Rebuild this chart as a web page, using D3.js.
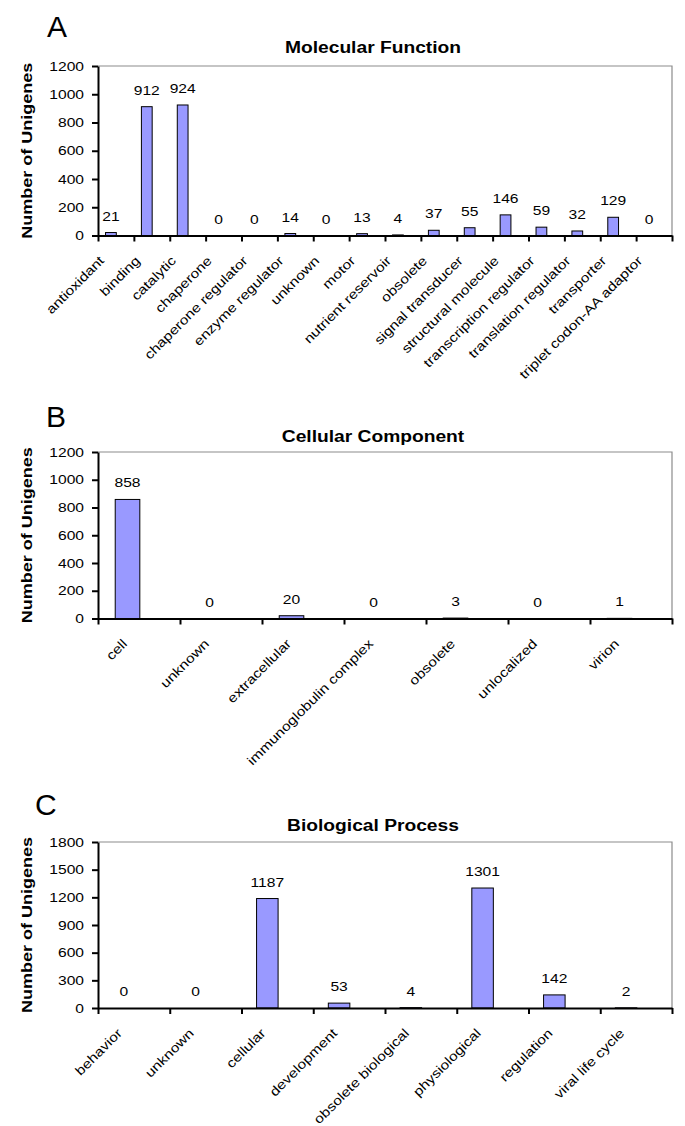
<!DOCTYPE html>
<html>
<head>
<meta charset="utf-8">
<script src="https://cdn.jsdelivr.net/npm/d3@7"></script>
<style>
  html, body { margin: 0; padding: 0; background: #fff; }
  svg { display: block; }
  text { font-family: "Liberation Sans", Arial, Helvetica, sans-serif; fill: #000; }
</style>
</head>
<body>
<svg id="chart" width="685" height="1126"></svg>
<script>
// ---- data ----
const mfCategories = ["antioxidant", "binding", "catalytic", "chaperone", "chaperone regulator",
  "enzyme regulator", "unknown", "motor", "nutrient reservoir", "obsolete", "signal transducer",
  "structural molecule", "transcription regulator", "translation regulator", "transporter",
  "triplet codon-AA adaptor"];
const mfValues = [21, 912, 924, 0, 0, 14, 0, 13, 4, 37, 55, 146, 59, 32, 129, 0];
const mfTicks = [0, 200, 400, 600, 800, 1000, 1200];

const ccCategories = ["cell", "unknown", "extracellular", "immunoglobulin complex", "obsolete",
  "unlocalized", "virion"];
const ccValues = [858, 0, 20, 0, 3, 0, 1];
const ccTicks = [0, 200, 400, 600, 800, 1000, 1200];

const bpCategories = ["behavior", "unknown", "cellular", "development", "obsolete biological",
  "physiological", "regulation", "viral life cycle"];
const bpValues = [0, 0, 1187, 53, 4, 1301, 142, 2];
const bpTicks = [0, 300, 600, 900, 1200, 1500, 1800];

const titles = ["Molecular Function", "Cellular Component", "Biological Process"];
const letters = ["A", "B", "C"];
const yTitle = "Number of Unigenes";

// ---- drawing ----
const svg = d3.select("#chart");
const STRETCH = 1.2;

function stretch(sel) {
  sel.each(function () {
    const n = this.getComputedTextLength();
    if (n > 0) {
      d3.select(this).attr("textLength", n * STRETCH).attr("lengthAdjust", "spacingAndGlyphs");
    }
  });
  return sel;
}

function panel(cats, vals, ticks, title, letter, L) {
  const g = svg.append("g");
  const x = d3.scaleBand().domain(cats).range([L.left, L.right]).padding(0);
  const xi = d3.scaleLinear().domain([0, cats.length]).range([L.left, L.right]);
  const y = d3.scaleLinear().domain([0, ticks[ticks.length - 1]]).range([L.bottom, L.top]);
  const bw = x.bandwidth();

  // panel letter
  g.append("text").attr("x", L.letterX).attr("y", L.letterY)
    .style("font-size", "30px").text(letter);

  // title
  stretch(g.append("text").attr("x", L.titleX).attr("y", L.titleY)
    .attr("text-anchor", "middle").style("font-size", "16px").style("font-weight", "bold")
    .text(title));

  // plot border (top, right)
  g.append("path")
    .attr("d", `M${L.left},${L.top}H${L.right}V${L.bottom}`)
    .attr("fill", "none").attr("stroke", "#8c8c8c").attr("stroke-width", 1.2);

  // bars
  g.selectAll("rect.bar").data(cats).join("rect").attr("class", "bar")
    .attr("x", (c) => x(c) + 0.21 * bw)
    .attr("width", 0.30 * bw)
    .attr("y", (c, i) => y(vals[i]))
    .attr("height", (c, i) => y(0) - y(vals[i]))
    .attr("fill", "#9999ff").attr("stroke", "#000").attr("stroke-width", 1);

  // value labels
  stretch(g.selectAll("text.val").data(cats).join("text").attr("class", "val")
    .attr("x", (c) => x(c) + 0.36 * bw)
    .attr("y", (c, i) => y(vals[i]) - 12)
    .attr("text-anchor", "middle").style("font-size", "13px")
    .text((c, i) => vals[i]));

  // y axis
  const ya = g.append("g").attr("transform", `translate(${L.left},0)`)
    .call(d3.axisLeft(y).tickValues(ticks).tickSize(6).tickSizeOuter(0).tickPadding(8)
      .tickFormat(d3.format("d")));
  ya.select(".domain").attr("stroke", "#000").attr("stroke-width", 2);
  ya.selectAll(".tick line").attr("stroke", "#000").attr("stroke-width", 2);
  ya.selectAll(".tick text").style("font-size", "13px")
    .style("font-family", '"Liberation Sans", Arial, sans-serif');
  stretch(ya.selectAll(".tick text"));

  // x axis (ticks at category boundaries)
  const xa = g.append("g").attr("transform", `translate(0,${L.bottom})`)
    .call(d3.axisBottom(xi).tickValues(d3.range(cats.length + 1)).tickSize(6)
      .tickSizeOuter(0).tickFormat(""));
  xa.select(".domain").attr("stroke", "#000").attr("stroke-width", 2);
  xa.selectAll(".tick line").attr("stroke", "#000").attr("stroke-width", 2);

  // category labels
  stretch(g.selectAll("text.cat").data(cats).join("text").attr("class", "cat")
    .attr("transform", (c) => `translate(${x(c) + bw / 2 - 11},${L.bottom + 26}) rotate(-45)`)
    .attr("text-anchor", "end").style("font-size", "13px")
    .text((c) => c));

  // y title
  stretch(g.append("text")
    .attr("transform", `translate(32,${(L.top + L.bottom) / 2}) rotate(-90)`)
    .attr("text-anchor", "middle").style("font-size", "15px").style("font-weight", "bold")
    .text(yTitle));
}

panel(mfCategories, mfValues, mfTicks, titles[0], letters[0],
  { left: 98, right: 672, top: 66, bottom: 235.5, titleX: 373, titleY: 53, letterX: 47, letterY: 37 });
panel(ccCategories, ccValues, ccTicks, titles[1], letters[1],
  { left: 98, right: 672, top: 452, bottom: 618.5, titleX: 373, titleY: 442, letterX: 46, letterY: 427 });
panel(bpCategories, bpValues, bpTicks, titles[2], letters[2],
  { left: 98, right: 672, top: 842, bottom: 1008, titleX: 373, titleY: 831, letterX: 35, letterY: 815 });
</script>
</body>
</html>
